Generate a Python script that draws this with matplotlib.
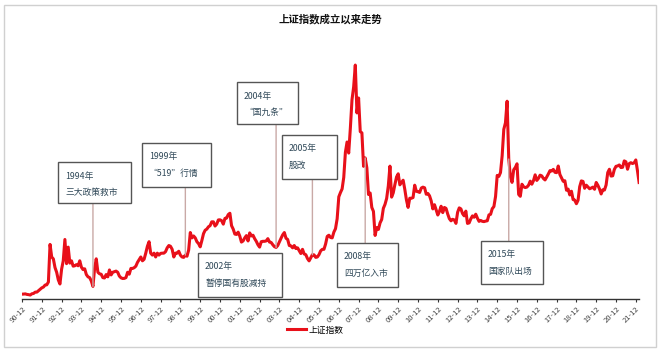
import matplotlib
matplotlib.use("Agg")
import matplotlib.pyplot as plt
from matplotlib.patches import Rectangle, ConnectionPatch
from matplotlib.transforms import blended_transform_factory

plt.rcParams['font.family'] = ['Noto Sans CJK SC', 'DejaVu Sans']

# --- data: monthly index level, starting 1990-12 ---
start_year, start_month = 1990, 12
index_values = [
    127,                                                              # 1990
    129, 134, 120, 114, 104, 137, 145, 180, 180, 218, 259, 292,       # 1991
    313, 365, 371, 445, 1429, 1100, 1050, 824, 700, 500, 393, 780,    # 1992
    1000, 1558, 925, 1358, 940, 1000, 860, 870, 900, 870, 1000, 833,  # 1993
    770, 790, 640, 580, 560, 470, 330, 800, 1052, 700, 660, 647,      # 1994
    560, 550, 640, 580, 760, 630, 700, 715, 730, 700, 600, 555,       # 1995
    537, 540, 560, 700, 650, 800, 800, 820, 860, 960, 1030, 1100,     # 1996
    1000, 1040, 1200, 1380, 1500, 1200, 1150, 1200, 1100, 1200, 1150, 1194,  # 1997
    1200, 1200, 1240, 1340, 1400, 1380, 1300, 1100, 1200, 1200, 1250, 1147,  # 1998
    1100, 1090, 1150, 1120, 1280, 1740, 1600, 1650, 1600, 1500, 1450, 1366,  # 1999
    1530, 1710, 1800, 1830, 1890, 1920, 2020, 2020, 1910, 1960, 2070, 2073,  # 2000
    2050, 1960, 2110, 2120, 2210, 2245, 1920, 1830, 1700, 1690, 1750, 1646,  # 2001
    1490, 1520, 1600, 1660, 1520, 1730, 1650, 1670, 1580, 1510, 1420, 1358,  # 2002
    1500, 1510, 1510, 1520, 1580, 1490, 1480, 1420, 1370, 1350, 1400, 1497,  # 2003
    1590, 1680, 1740, 1590, 1560, 1400, 1390, 1340, 1400, 1320, 1340, 1267,  # 2004
    1190, 1300, 1180, 1160, 1060, 998, 1080, 1160, 1155, 1090, 1100, 1161,   # 2005
    1260, 1300, 1300, 1440, 1640, 1670, 1610, 1600, 1750, 1840, 2100, 2675,  # 2006
    2786, 2881, 3183, 3841, 4110, 3820, 4471, 5218, 5552, 6124, 4871, 5262,  # 2007
    4383, 4348, 3473, 3693, 3433, 2736, 2775, 2397, 2293, 1664, 1871, 1821,  # 2008
    1991, 2082, 2373, 2477, 2633, 2959, 3478, 2667, 2779, 2996, 3195, 3277,  # 2009
    2989, 3051, 3110, 2870, 2592, 2398, 2638, 2638, 2656, 2979, 2820, 2808,  # 2010
    2790, 2905, 2928, 2911, 2743, 2762, 2701, 2567, 2359, 2468, 2333, 2199,  # 2011
    2292, 2428, 2262, 2396, 2372, 2225, 2103, 2047, 2086, 2069, 1980, 2269,  # 2012
    2385, 2359, 2236, 2177, 2300, 1979, 1993, 2098, 2175, 2141, 2220, 2116,  # 2013
    2033, 2056, 2033, 2026, 2039, 2048, 2202, 2217, 2364, 2420, 2683, 3235,  # 2014
    3210, 3310, 3748, 4442, 4612, 5178, 3664, 3206, 3053, 3383, 3445, 3539,  # 2015
    2738, 2688, 3004, 2938, 2917, 2930, 2979, 3085, 3005, 3100, 3250, 3104,  # 2016
    3159, 3242, 3223, 3155, 3117, 3192, 3273, 3361, 3349, 3393, 3317, 3307,  # 2017
    3481, 3259, 3169, 3082, 3095, 2847, 2876, 2725, 2821, 2603, 2588, 2494,  # 2018
    2585, 2941, 3091, 3078, 2899, 2979, 2933, 2886, 2905, 2929, 2872, 3050,  # 2019
    2977, 2880, 2750, 2860, 2852, 2985, 3310, 3396, 3218, 3225, 3392, 3473,  # 2020
    3483, 3509, 3441, 3447, 3615, 3591, 3397, 3544, 3568, 3547, 3564, 3640,  # 2021
    3361, 3050,                                                       # 2022
]

tick_years = list(range(1990, 2022))
tick_labels = [f"{y % 100:02d}-12" for y in tick_years]

# events: label, (year, month) where the connector meets the curve
event_labels = ["1994年\n三大政策救市", "1999年\n“519”行情", "2002年\n暂停国有股减持",
                "2004年\n“国九条”", "2005年\n股改", "2008年\n四万亿入市", "2015年\n国家队出场"]
event_dates = [(1994, 7), (1999, 3), None, (2003, 10), (2005, 8), (2008, 4), (2015, 7)]
# box extents in pixels from top-left: x0, y0, x1, y1
event_boxes = [(58, 162, 131, 203), (142, 143, 211, 187), (198, 253, 282, 297),
               (237, 82, 298, 124), (282, 135, 337, 179), (337, 243, 398, 287),
               (481, 241, 543, 284)]


def month_pos(year, month):
    return year + (month - 1) / 12.0


x_vals = [month_pos(start_year, start_month) + i / 12.0 for i in range(len(index_values))]

W, H = 660, 352
fig = plt.figure(figsize=(W / 100, H / 100), dpi=100)
fig.patch.set_facecolor('white')

# outer light frame
fig.patches.append(Rectangle((4 / W, 5 / H), 652 / W, 342 / H, transform=fig.transFigure,
                             fill=False, edgecolor='#d0d0d0', linewidth=1.0))

ax = fig.add_axes([22 / W, 53 / H, 617 / W, 248 / H])
ax.plot(x_vals, index_values, color='#e8101a', linewidth=2.2, label='上证指数', zorder=3)

ax.set_xlim(month_pos(1990, 12), month_pos(1990, 12) + 617 / 19.8)
ax.set_ylim(0, 248 / 0.0382)
for s in ['top', 'right', 'left']:
    ax.spines[s].set_visible(False)
ax.spines['bottom'].set_color('#333333')
ax.spines['bottom'].set_linewidth(1.0)
ax.set_yticks([])
ax.set_xticks([month_pos(y, 12) for y in tick_years])
ax.set_xticklabels(tick_labels, rotation=45, ha='right', va='top', fontsize=5.5,
                   color='#444444', rotation_mode='anchor')
ax.tick_params(axis='x', length=2.5, width=0.8, color='#333333', pad=2)

fig.text(0.5, 1 - 19 / H, "上证指数成立以来走势", ha='center', va='center',
         fontsize=7.5, fontweight='bold', color='#111111')

# annotation boxes with connector lines
def fx(px):
    return px / W


def fy(py):
    return 1 - py / H


blend = blended_transform_factory(ax.transData, fig.transFigure)
for label, date, (x0, y0, x1, y1) in zip(event_labels, event_dates, event_boxes):
    fig.patches.append(Rectangle((fx(x0), fy(y1)), (x1 - x0) / W, (y1 - y0) / H,
                                 transform=fig.transFigure, facecolor='white',
                                 edgecolor='#555555', linewidth=1.0, zorder=5))
    line1, line2 = label.split("\n")
    fig.text(fx(x0 + 7), fy(y0 + 14), line1, ha='left', va='center', fontsize=6.3,
             color='#2f4858', zorder=6)
    fig.text(fx(x0 + 7), fy(y0 + 30), line2, ha='left', va='center', fontsize=6.3,
             color='#2f4858', zorder=6)
    if date is None:
        continue
    xd = month_pos(*date)
    i = x_vals.index(min(x_vals, key=lambda v: abs(v - xd)))
    edge_y = fy(y1) if y0 < 200 else fy(y0)
    con = ConnectionPatch(xyA=(xd, index_values[i]), coordsA=ax.transData,
                          xyB=(xd, edge_y), coordsB=blend,
                          color='#c9a9a6', linewidth=1.0, zorder=1)
    fig.add_artist(con)

ax.legend(loc='center', bbox_to_anchor=(315 / W, 1 - 330 / H),
          bbox_transform=fig.transFigure, frameon=False, fontsize=6.3,
          handlelength=2.2, handletextpad=0.3)

fig.savefig("out.png", dpi=100)
